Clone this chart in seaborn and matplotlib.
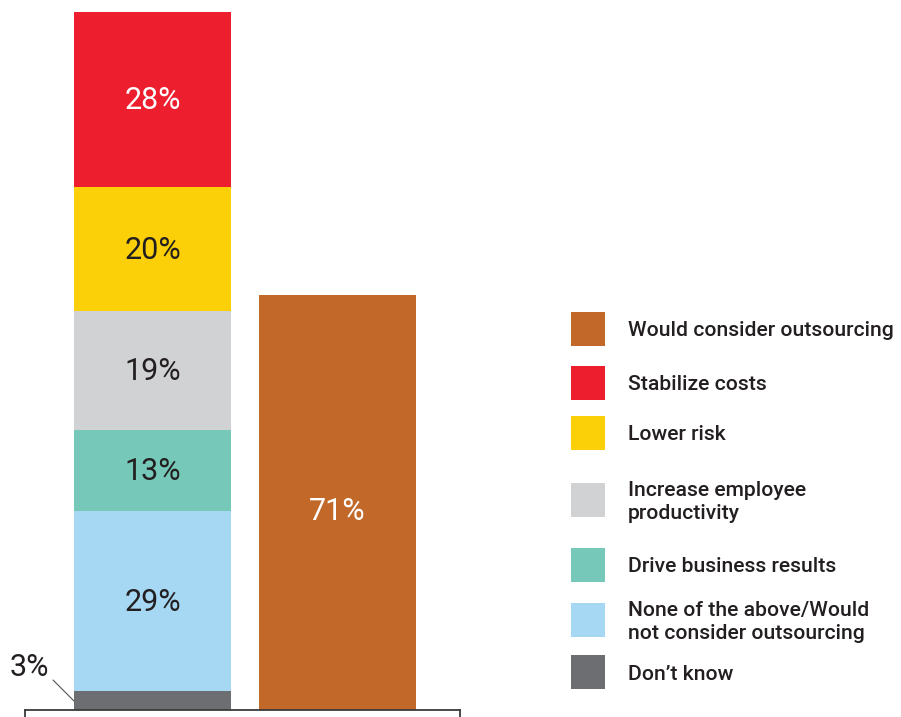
import numpy as np
import pandas as pd
import matplotlib
matplotlib.use("Agg")
import matplotlib.pyplot as plt
from matplotlib.patches import Rectangle
from matplotlib.lines import Line2D
import seaborn as sns

# ---- data ----
categories = ["Reasons", "Would consider outsourcing"]
segment_labels = ["Don\u2019t know", "None of the above/Would\nnot consider outsourcing",
                  "Drive business results", "Increase employee\nproductivity",
                  "Lower risk", "Stabilize costs"]
segment_values = [3, 29, 13, 19, 20, 28]
segment_colors = ["#6D6E71", "#A6D8F4", "#76C8B8", "#D1D2D4", "#FCD008", "#ED1F2F"]
segment_text_colors = [None, "#231F20", "#231F20", "#231F20", "#231F20", "#FFFFFF"]
consider_label = "Would consider outsourcing"
consider_height = 66.6   # bar height as drawn
consider_text = "71%"
consider_color = "#C2692A"

legend_labels = [consider_label, "Stabilize costs", "Lower risk",
                 "Increase employee\nproductivity", "Drive business results",
                 "None of the above/Would\nnot consider outsourcing", "Don\u2019t know"]
legend_colors = [consider_color, "#ED1F2F", "#FCD008", "#D1D2D4", "#76C8B8", "#A6D8F4", "#6D6E71"]

sns.set_style("white")
plt.rcParams["font.family"] = ["Roboto", "DejaVu Sans"]

W, H = 901, 717
fig = plt.figure(figsize=(W / 100, H / 100), dpi=100)
ax = fig.add_axes([25 / W, 7 / H, 435 / W, 698 / H])

bar_w = 157 / 185
cum = np.cumsum(segment_values)
# stacked bar: draw cumulative totals from the top down
for i in range(len(segment_values) - 1, -1, -1):
    df = pd.DataFrame({"cat": [categories[0]], "val": [cum[i]]})
    sns.barplot(data=df, x="cat", y="val", order=categories, color=segment_colors[i],
                saturation=1, width=bar_w, linewidth=0, ax=ax, errorbar=None)
df2 = pd.DataFrame({"cat": [categories[1]], "val": [consider_height]})
sns.barplot(data=df2, x="cat", y="val", order=categories, color=consider_color,
            saturation=1, width=bar_w, linewidth=0, ax=ax, errorbar=None)

xmin = -(152.5 - 25) / 185
xmax = 1 + (460 - 337.5) / 185
ax.set_xlim(xmin, xmax)
ax.set_ylim(0, cum[-1])

# value labels
bottoms = np.concatenate([[0], cum[:-1]])
for v, b, tc in zip(segment_values, bottoms, segment_text_colors):
    if tc is None:
        continue
    ax.text(0, b + v / 2 - 0.2, f"{v}%", ha="center", va="center", fontsize=22, color=tc)
ax.text(1, consider_height / 2 - 1.4, consider_text, ha="center", va="center",
        fontsize=22, color="white")

# small-segment callout
fig.text(10 / W, 1 - 668 / H, f"{segment_values[0]}%", ha="left", va="center",
         fontsize=22, color="#231F20")
fig.add_artist(Line2D([53 / W, 74 / W], [1 - 680 / H, 1 - 701 / H],
                      transform=fig.transFigure, color="#555555", lw=0.8))

# axes styling
for s in ["top", "left", "right"]:
    ax.spines[s].set_visible(False)
ax.spines["bottom"].set_color("#3a3a3a")
ax.spines["bottom"].set_linewidth(1.3)
ax.set_xticks([])
ax.set_yticks([])
ax.set_xlabel("")
ax.set_ylabel("")
for xe in (0, 1):
    ax.add_line(Line2D([xe, xe], [0, -8 / 698], transform=ax.transAxes,
                       color="#3a3a3a", lw=1.3, clip_on=False))

# legend (manual)
centers = [329, 383, 433, 500, 565, 620, 672]
for lab, col, yc in zip(legend_labels, legend_colors, centers):
    fig.add_artist(Rectangle((571 / W, 1 - (yc + 17) / H), 34 / W, 34 / H,
                             transform=fig.transFigure, color=col, lw=0))
    fig.text(628 / W, 1 - (yc + 2) / H, lab, ha="left", va="center", fontsize=15.2,
             fontweight="medium", color="#231F20", linespacing=1.22)

fig.savefig("out.png", dpi=100)
